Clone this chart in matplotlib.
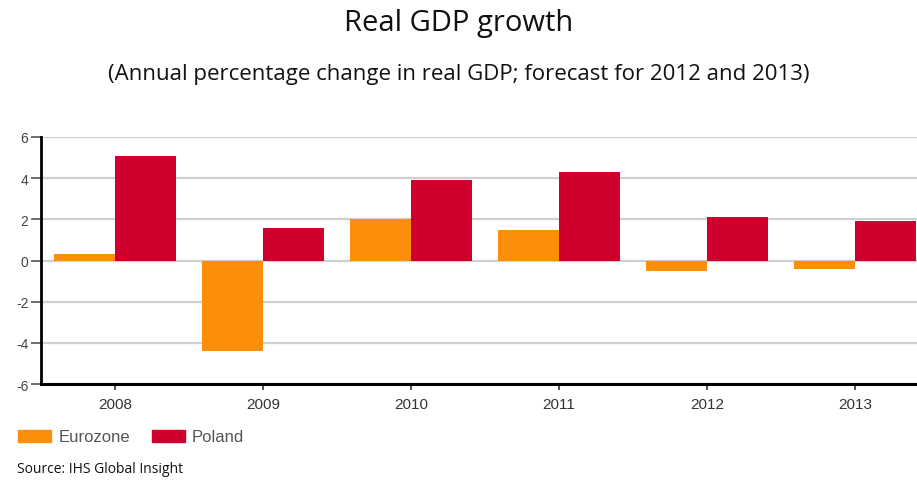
import matplotlib.pyplot as plt
import numpy as np
from matplotlib.patches import Patch

years = ["2008", "2009", "2010", "2011", "2012", "2013"]
eurozone = [0.3, -4.4, 2.0, 1.5, -0.5, -0.4]
poland = [5.1, 1.6, 3.9, 4.3, 2.1, 1.9]
yticks = [-6, -4, -2, 0, 2, 4, 6]

ORANGE = "#fb8f0b"
RED = "#cf002d"
GREY_TXT = "#555555"

fig = plt.figure(figsize=(9.17, 4.85), dpi=100)
ax = fig.add_axes([0.0447, 0.206, 0.9553, 0.5095])

x = np.arange(len(years))
w = 0.41
ax.bar(x - w / 2, eurozone, w, color=ORANGE, zorder=3)
ax.bar(x + w / 2, poland, w, color=RED, zorder=3)

ax.set_xlim(-0.5, 5.42)
ax.set_ylim(-6, 6)
ax.set_yticks(yticks)
ax.set_yticklabels([str(v) for v in yticks])
ax.set_xticks(x)
ax.set_xticklabels(years)
ax.yaxis.grid(True, color="#d0d0d0", linewidth=1.6, zorder=0)
ax.set_axisbelow(True)

for s in ["top", "right"]:
    ax.spines[s].set_visible(False)
ax.spines["left"].set_linewidth(2)
ax.spines["bottom"].set_linewidth(2.2)
ax.tick_params(axis="y", length=7, width=1.2, color="#555555", labelsize=10,
               labelcolor="#444444", pad=2)
ax.tick_params(axis="x", length=4, width=1.2, color="#333333", labelsize=11,
               labelcolor="#333333", pad=5)
for lab in ax.get_xticklabels() + ax.get_yticklabels():
    lab.set_family("Liberation Sans")

fig.text(0.5, 0.952, "Real GDP growth", ha="center", va="center",
         fontsize=21, family="Open Sans", color="#111111")
fig.text(0.5, 0.847, "(Annual percentage change in real GDP; forecast for 2012 and 2013)",
         ha="center", va="center", fontsize=16, family="Open Sans", color="#111111")
fig.text(0.019, 0.017, "Source: IHS Global Insight", ha="left", va="bottom",
         fontsize=10, family="Open Sans", color="#111111")

handles = [Patch(color=ORANGE, label="Eurozone"), Patch(color=RED, label="Poland")]
leg = fig.legend(handles=handles, loc="center left", bbox_to_anchor=(0.0196, 0.097),
                 ncol=2, frameon=False, handlelength=2.0, handleheight=0.72,
                 handletextpad=0.42, columnspacing=1.3, borderpad=0, borderaxespad=0,
                 prop={"family": "Liberation Sans", "size": 12})
for t in leg.get_texts():
    t.set_color(GREY_TXT)

fig.savefig("out.png", dpi=100)
